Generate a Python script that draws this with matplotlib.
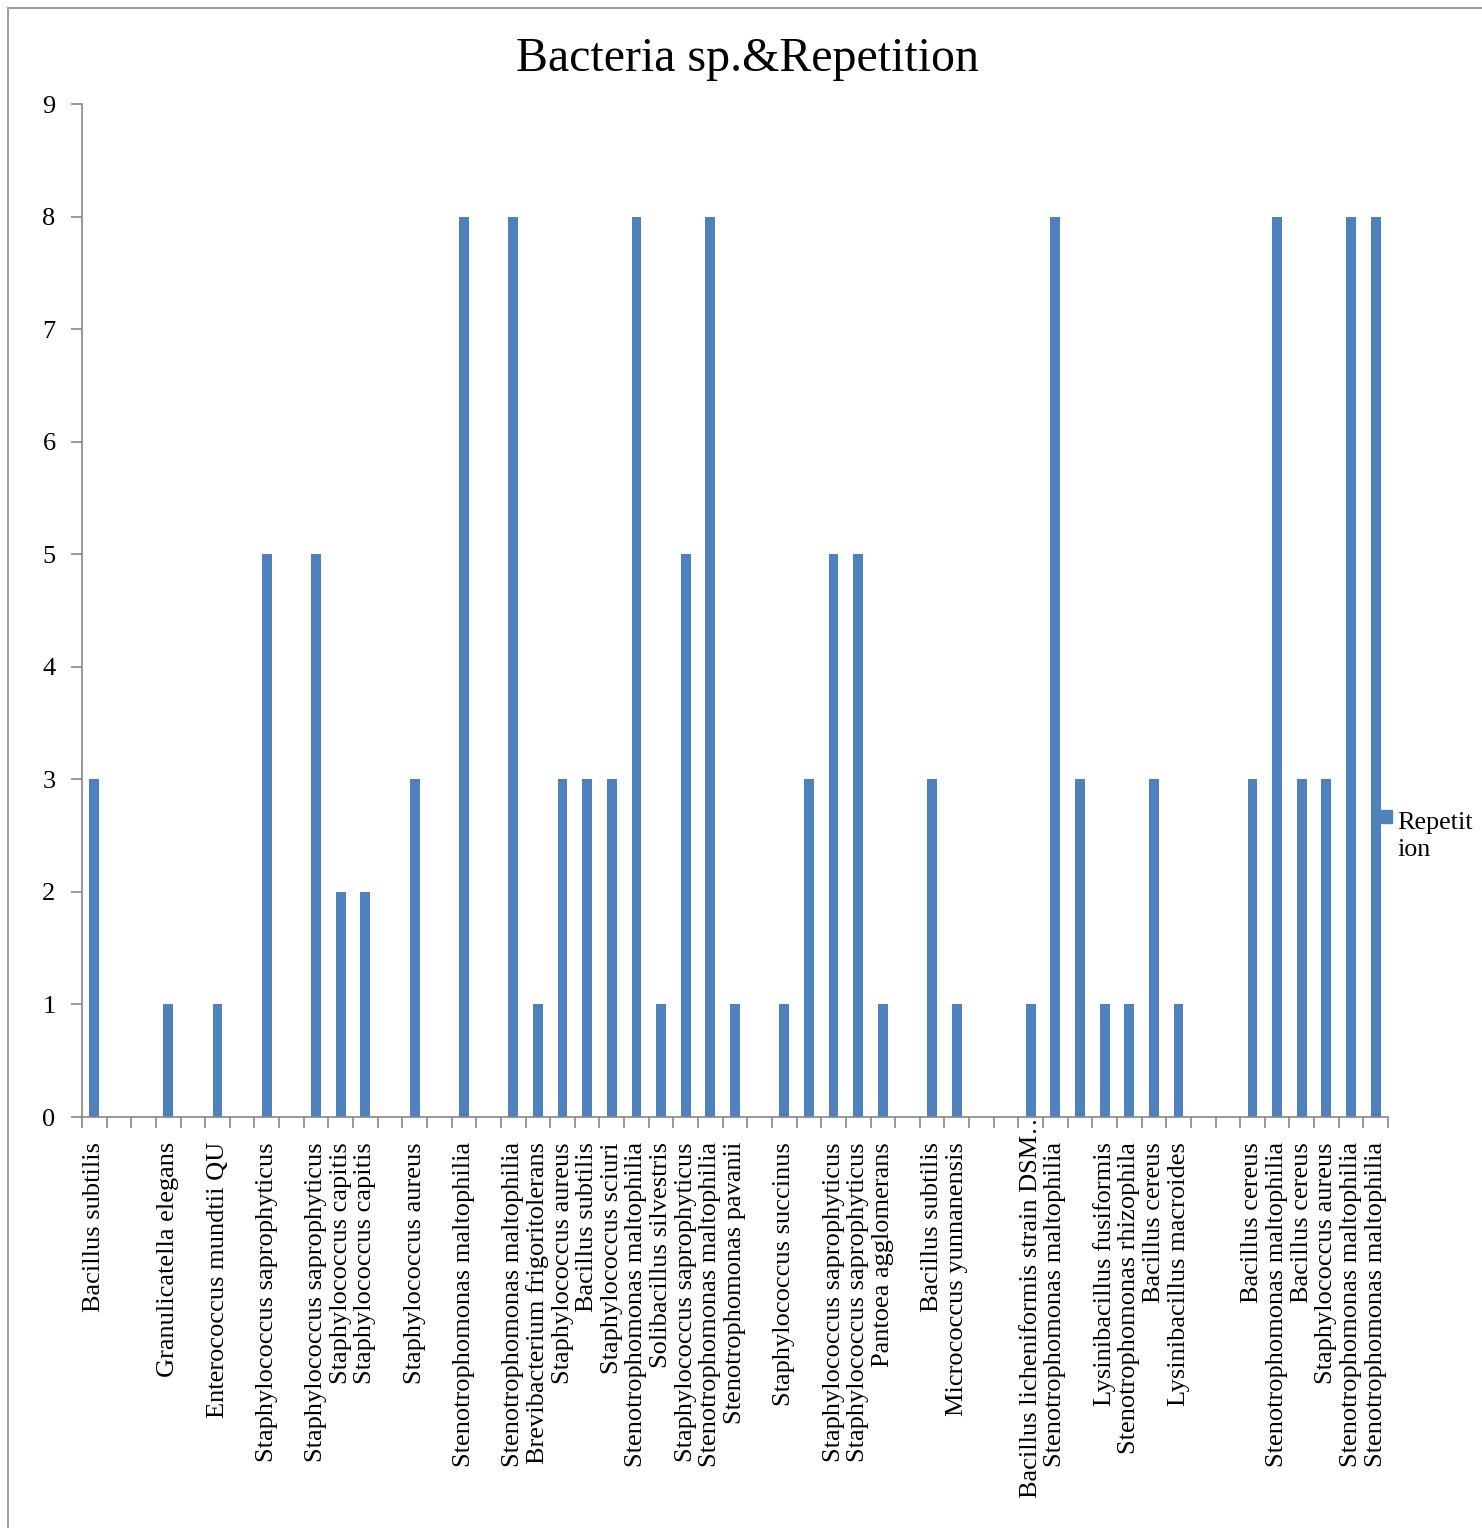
import matplotlib.pyplot as plt
import matplotlib.transforms as mtransforms
from matplotlib.patches import Rectangle
import numpy as np

plt.rcParams["font.family"] = ["Liberation Serif", "DejaVu Serif"]

# one slot per category; blank names are empty slots on the axis
names = [
    "Bacillus subtilis", "", "", "Granulicatella elegans", "",
    "Enterococcus mundtii QU", "", "Staphylococcus saprophyticus", "",
    "Staphylococcus saprophyticus", "Staphylococcus capitis", "Staphylococcus capitis", "",
    "Staphylococcus aureus", "", "Stenotrophomonas maltophilia", "",
    "Stenotrophomonas maltophilia", "Brevibacterium frigoritolerans", "Staphylococcus aureus",
    "Bacillus subtilis", "Staphylococcus sciuri", "Stenotrophomonas maltophilia",
    "Solibacillus silvestris", "Staphylococcus saprophyticus", "Stenotrophomonas maltophilia",
    "Stenotrophomonas pavanii", "", "Staphylococcus succinus", "",
    "Staphylococcus saprophyticus", "Staphylococcus saprophyticus", "Pantoea agglomerans", "",
    "Bacillus subtilis", "Micrococcus yunnanensis", "", "",
    "Bacillus licheniformis strain DSM…", "Stenotrophomonas maltophilia", "",
    "Lysinibacillus fusiformis", "Stenotrophomonas rhizophila", "Bacillus cereus",
    "Lysinibacillus macroides", "", "", "Bacillus cereus", "Stenotrophomonas maltophilia",
    "Bacillus cereus", "Staphylococcus aureus", "Stenotrophomonas maltophilia",
    "Stenotrophomonas maltophilia",
]
repetition = [
    3, 0, 0, 1, 0,
    1, 0, 5, 0,
    5, 2, 2, 0,
    3, 0, 8, 0,
    8, 1, 3,
    3, 3, 8,
    1, 5, 8,
    1, 0, 1, 3,
    5, 5, 1, 0,
    3, 1, 0, 0,
    1, 8, 3,
    1, 1, 3,
    1, 0, 0, 3, 8,
    3, 3, 8,
    8,
]

blue = "#4F81BD"
grey = "#868686"

fig = plt.figure(figsize=(14.82, 15.28), dpi=100)
ax = fig.add_axes([82 / 1482, 1 - 1117 / 1528, (1388 - 82) / 1482, (1117 - 104) / 1528])

x = np.arange(len(names))
ax.bar(x, repetition, width=0.4, color=blue, zorder=2)

ax.set_xlim(-0.5, len(names) - 0.5)
ax.set_ylim(0, 9)
ax.set_yticks(range(10))
ax.tick_params(axis="y", length=8, width=1.2, color=grey, labelsize=19, pad=11)

ax.set_xticks(x)
labels = ax.set_xticklabels(names, rotation=90, ha="center", va="top", fontsize=19)
ax.tick_params(axis="x", which="major", length=0, pad=18)
ax.set_xticks(np.arange(len(names) + 1) - 0.5, minor=True)
ax.tick_params(axis="x", which="minor", length=8, width=1.2, color=grey)

# the longest name would run off the bottom, so lift it up into the tick area
long_lbl = labels[names.index("Bacillus licheniformis strain DSM…")]
long_lbl.set_transform(long_lbl.get_transform() +
                       mtransforms.ScaledTranslation(0, 24.5 / 72, fig.dpi_scale_trans))

for side in ("top", "right"):
    ax.spines[side].set_visible(False)
for side in ("left", "bottom"):
    ax.spines[side].set_color(grey)
    ax.spines[side].set_linewidth(1.2)

fig.text(747 / 1482, 1 - 59 / 1528, "Bacteria sp.&Repetition", ha="center", va="center", fontsize=34.5)

# legend entry at the right edge
fig.patches.append(Rectangle((1381 / 1482, 1 - 823 / 1528), 11 / 1482, 13 / 1528,
                             transform=fig.transFigure, color=blue))
fig.text(1397 / 1482, 1 - 856 / 1528, "Repetit\nion", ha="left", va="baseline",
         fontsize=18.8, linespacing=1.28)

# chart area frame
fig.patches.append(Rectangle((8 / 1482, -0.1), 1.2, 1 - 8 / 1528 + 0.1, transform=fig.transFigure,
                             fill=False, edgecolor="#A0A0A0", linewidth=1.5))

fig.savefig("out.png", dpi=100)
